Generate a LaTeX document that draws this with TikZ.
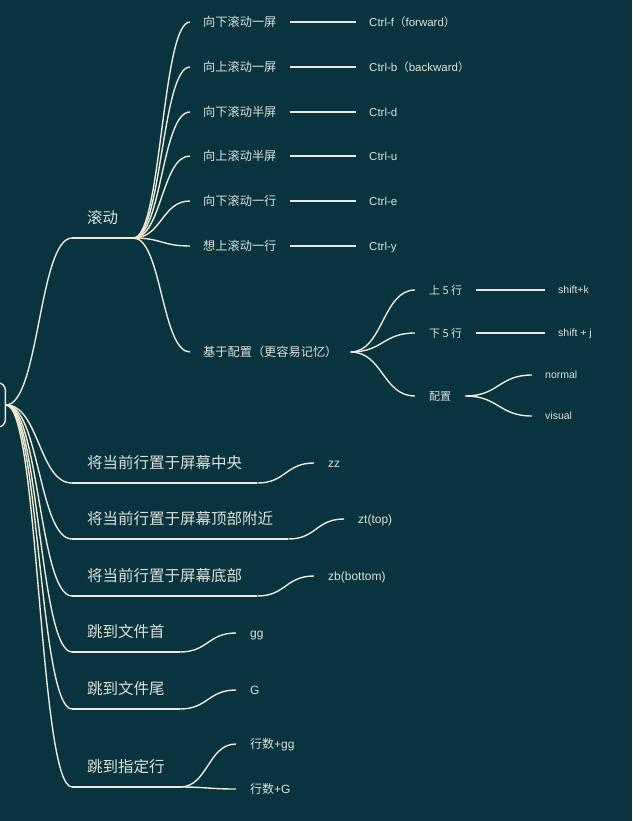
\documentclass[tikz,border=0pt]{standalone}
\usepackage{fontspec}
\setmainfont{Noto Sans CJK SC}
\newfontfamily\cjk{Noto Sans CJK SC}
\newfontfamily\en{Liberation Sans}
\usetikzlibrary{calc,positioning}
\definecolor{bg}{RGB}{8,52,64}
\definecolor{wire}{RGB}{238,232,212}
\definecolor{ink}{RGB}{222,224,214}
\tikzset{
  link/.style={draw=wire, line width=1.4pt,
    to path={let \p1=(\tikztostart), \p2=(\tikztotarget) in
      .. controls ({(\x1+\x2)/2},\y1) and ({(\x1+\x2)/2},\y2) .. (\tikztotarget)}},
  under/.style={draw=wire, line width=1.4pt},
  bar/.style={draw=wire, line width=1.8pt},
  topic/.style={text=ink, anchor=south west, inner xsep=15pt, inner ysep=14pt,
    text height=11.8pt, text depth=0pt, font=\fontsize{15.5}{18}\selectfont},
  subtopic/.style={text=ink, anchor=west, inner xsep=13pt, inner ysep=0pt,
    text height=9.3pt, text depth=0pt, font=\fontsize{12.2}{14}\selectfont},
  detail/.style={subtopic, inner xsep=14pt, text height=8.4pt, font=\fontsize{11}{13}\selectfont},
  shortcut/.style={text=ink, anchor=west, inner xsep=13pt, inner ysep=0pt,
    text height=8.2pt, text depth=0pt, font=\en\fontsize{11.5}{13}\selectfont},
  smallkey/.style={shortcut, text height=7.6pt, font=\en\fontsize{10.5}{12}\selectfont},
  jumpkey/.style={shortcut, inner xsep=14pt, text height=8.6pt, font=\en\fontsize{12}{14}\selectfont}
}
\begin{document}
\begin{tikzpicture}[x=1pt, y=-1pt]
  \useasboundingbox (0,0) rectangle (632,821);
  \fill[bg] (0,0) rectangle (632,821);
  \clip (0,0) rectangle (632,821);

  \node[draw=wire, line width=1.4pt, rounded corners=7pt, minimum width=40pt,
        minimum height=44pt, anchor=east] (root) at (6,405) {};

  \node[topic] (gun) at (72,238) {滚动};
  \node[topic] (mid) at (72,483) {将当前行置于屏幕中央};
  \node[topic] (top) at (72,539) {将当前行置于屏幕顶部附近};
  \node[topic] (bot) at (72,596) {将当前行置于屏幕底部};
  \node[topic] (head) at (72,652) {跳到文件首};
  \node[topic] (tail) at (72,709) {跳到文件尾};
  \node[topic] (jump) at (72,787) {跳到指定行};

  \node[subtopic] (s1) at (190,22) {向下滚动一屏};
  \node[subtopic] (s2) at (190,67) {向上滚动一屏};
  \node[subtopic] (s3) at (190,112) {向下滚动半屏};
  \node[subtopic] (s4) at (190,156) {向上滚动半屏};
  \node[subtopic] (s5) at (190,201) {向下滚动一行};
  \node[subtopic] (s6) at (190,246) {想上滚动一行};
  \node[subtopic] (s7) at (190,352) {基于配置（更容易记忆）};

  \node[shortcut] (c1) at (356,22) {Ctrl-f{\cjk （}forward{\cjk ）}};
  \node[shortcut] (c2) at (356,67) {Ctrl-b{\cjk （}backward{\cjk ）}};
  \node[shortcut] (c3) at (356,112) {Ctrl-d};
  \node[shortcut] (c4) at (356,156) {Ctrl-u};
  \node[shortcut] (c5) at (356,201) {Ctrl-e};
  \node[shortcut] (c6) at (356,246) {Ctrl-y};

  \node[detail] (up) at (415,290) {上 5 行};
  \node[detail] (down) at (415,333) {下 5 行};
  \node[detail] (conf) at (415,396) {配置};
  \node[smallkey] (sk) at (545,290) {shift+k};
  \node[smallkey] (sj) at (545,333) {shift + j};
  \node[smallkey] (nm) at (532,375) {normal};
  \node[smallkey] (vs) at (532,416) {visual};

  \node[jumpkey] (zz) at (314,463) {zz};
  \node[jumpkey] (zt) at (344,519) {zt(top)};
  \node[jumpkey] (zb) at (314,576) {zb(bottom)};
  \node[jumpkey] (gg) at (236,633) {gg};
  \node[jumpkey] (bigG) at (236,690) {G};
  \node[jumpkey] (ngg) at (236,744) {{\cjk 行数}+gg};
  \node[jumpkey] (nG) at (236,789) {{\cjk 行数}+G};

  \draw[link] (root.east) to (gun.south west);
  \draw[link] (root.east) to (mid.south west);
  \draw[link] (root.east) to (top.south west);
  \draw[link] (root.east) to (bot.south west);
  \draw[link] (root.east) to (head.south west);
  \draw[link] (root.east) to (tail.south west);
  \draw[link] (root.east) to (jump.south west);
  \draw[under] (gun.south west) -- (gun.south east);
  \draw[under] (mid.south west) -- (mid.south east);
  \draw[under] (top.south west) -- (top.south east);
  \draw[under] (bot.south west) -- (bot.south east);
  \draw[under] (head.south west) -- (head.south east);
  \draw[under] (tail.south west) -- (tail.south east);
  \draw[under] (jump.south west) -- (jump.south east);

  \draw[link] (gun.south east) to (s1.west);
  \draw[link] (gun.south east) to (s2.west);
  \draw[link] (gun.south east) to (s3.west);
  \draw[link] (gun.south east) to (s4.west);
  \draw[link] (gun.south east) to (s5.west);
  \draw[link] (gun.south east) to (s6.west);
  \draw[link] (gun.south east) to (s7.west);
  \draw[bar] (s1.east) -- (c1.west);
  \draw[bar] (s2.east) -- (c2.west);
  \draw[bar] (s3.east) -- (c3.west);
  \draw[bar] (s4.east) -- (c4.west);
  \draw[bar] (s5.east) -- (c5.west);
  \draw[bar] (s6.east) -- (c6.west);

  \draw[link] (s7.east) to (up.west);
  \draw[link] (s7.east) to (down.west);
  \draw[link] (s7.east) to (conf.west);
  \draw[bar] (up.east) -- (sk.west);
  \draw[bar] (down.east) -- (sj.west);
  \draw[link] (conf.east) to (nm.west);
  \draw[link] (conf.east) to (vs.west);

  \draw[link] (mid.south east) to (zz.west);
  \draw[link] (top.south east) to (zt.west);
  \draw[link] (bot.south east) to (zb.west);
  \draw[link] (head.south east) to (gg.west);
  \draw[link] (tail.south east) to (bigG.west);
  \draw[link] (jump.south east) to (ngg.west);
  \draw[link] (jump.south east) to (nG.west);
\end{tikzpicture}
\end{document}
